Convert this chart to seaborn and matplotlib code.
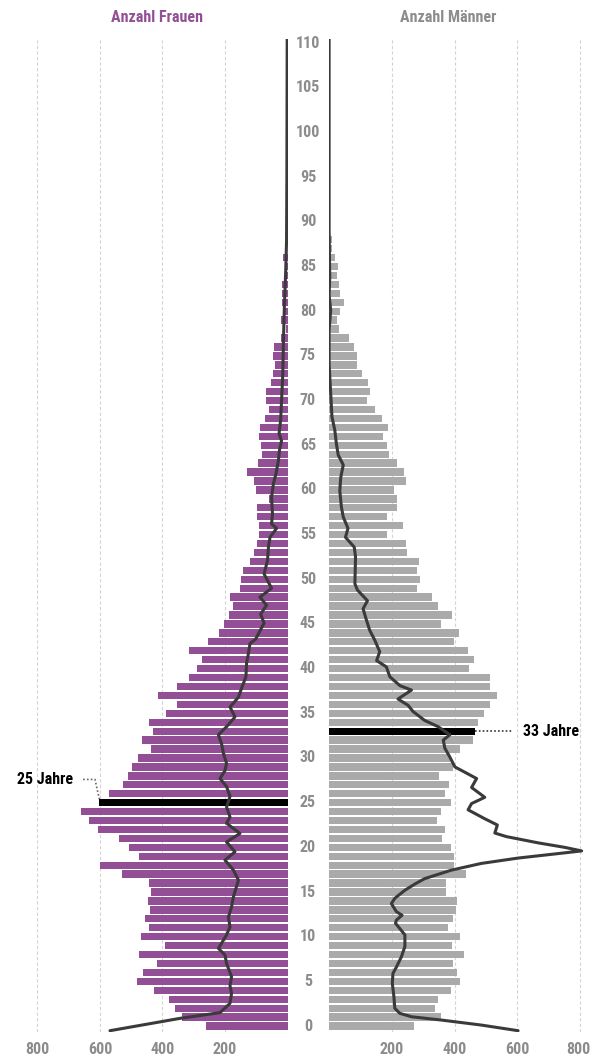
import numpy as np
import pandas as pd
import seaborn as sns
import matplotlib.pyplot as plt
from matplotlib import font_manager
from matplotlib.transforms import blended_transform_factory, ScaledTranslation

# Bars: people per age
ages_f = list(range(0, 87))
women = [262, 339, 361, 380, 427, 481, 461, 418, 476, 392,
         470, 443, 455, 440, 447, 436, 444, 530, 599, 475,
         507, 539, 607, 634, 661, 602, 570, 526, 511, 499,
         478, 438, 464, 431, 442, 388, 355, 413, 354, 316,
         290, 274, 314, 254, 220, 202, 187, 173, 183, 153,
         148, 142, 120, 107, 98, 91, 91, 98, 98, 59,
         101, 106, 130, 95, 82, 84, 92, 87, 71, 60,
         68, 70, 52, 47, 39, 46, 44, 21, 6, 21,
         14, 17, 17, 17, 4, 8, 13]

ages_m = list(range(0, 90))
men = [271, 358, 339, 347, 390, 418, 408, 395, 431, 393,
       416, 380, 396, 405, 408, 374, 374, 436, 399, 398,
       389, 360, 368, 345, 356, 388, 369, 383, 350, 394,
       385, 418, 457, 464, 476, 493, 512, 534, 514, 512,
       446, 463, 443, 397, 415, 356, 392, 348, 327, 280,
       290, 280, 288, 250, 244, 184, 235, 185, 218, 216,
       208, 247, 238, 216, 190, 184, 171, 189, 170, 148,
       123, 131, 124, 107, 90, 89, 79, 63, 31, 26,
       35, 48, 37, 32, 26, 30, 19, 9, 9, 3]

highlight_f = 25
highlight_m = 33

# Comparison curves (age, count)
curve_f_age = [-0.52, 0.86, 1.5, 2.54, 3.65, 4.52, 5.52, 7.0, 7.95, 8.69,
               10.2, 11.1, 12.2, 13.35, 14.47, 16.33, 17.45, 18.57, 19.5, 20.6,
               21.55, 22.7, 23.4, 24.5, 25.7, 26.8, 27.7, 28.6, 29.4, 30.5,
               31.6, 32.6, 33.5, 34.6, 35.7, 36.8, 37.8, 39.1, 40.6, 41.7,
               42.8, 43.3, 44.1, 45.1, 46.1, 47.1, 48.0, 49.0, 50.6, 52.1,
               53.6, 54.7, 55.7, 56.2, 57.3, 59.2, 60.7, 61.8, 63.3, 64.4,
               65.5, 66.3, 67.8, 70.0, 73.0, 76.7, 80.5, 84.2, 87.9, 95.0,
               110.5]
curve_f_val = [568, 344, 216, 184, 179, 184, 179, 195, 200, 221,
               195, 184, 189, 179, 173, 157, 173, 200, 168, 195,
               152, 195, 184, 195, 184, 195, 216, 200, 195, 205,
               211, 221, 195, 168, 184, 157, 147, 133, 131, 125,
               120, 102, 90, 75, 86, 67, 88, 51, 75, 64,
               61, 56, 35, 51, 48, 51, 45, 37, 29, 26,
               19, 27, 22, 19, 15, 13, 10, 6, 3, 2,
               1]

curve_m_age = [-0.52, 0.11, 0.67, 1.04, 1.42, 1.98, 3.3, 4.77, 5.89, 6.6,
               7.76, 8.9, 10.2, 10.9, 11.5, 11.86, 12.4, 12.8, 13.7, 14.3,
               15.2, 15.9, 16.5, 17.45, 18.2, 18.8, 19.3, 19.6, 20.0, 20.5,
               21.2, 21.6, 22.5, 23.2, 24.2, 24.9, 25.6, 26.7, 27.7, 28.4,
               29.0, 30.1, 31.1, 32.0, 32.6, 33.5, 34.2, 35.2, 35.9, 36.6,
               37.6, 38.1, 39.1, 40.2, 40.9, 41.9, 43.2, 44.3, 45.4, 46.7,
               47.6, 48.8, 49.5, 52.5, 53.6, 54.7, 55.7, 56.97, 58.1, 59.9,
               61.4, 62.8, 63.9, 65.2, 66.7, 68.2, 74.1, 77.9, 80.1, 81.8,
               83.8, 89.0, 110.5]
curve_m_val = [602, 485, 358, 263, 226, 210, 207, 202, 204, 215,
               231, 242, 242, 226, 212, 215, 233, 215, 199, 210,
               242, 274, 305, 390, 485, 602, 729, 804, 750, 666,
               565, 528, 536, 496, 443, 454, 496, 454, 470, 433,
               401, 385, 369, 364, 385, 348, 305, 268, 252, 220,
               263, 226, 194, 183, 152, 162, 146, 130, 120, 109,
               123, 91, 83, 85, 81, 53, 61, 46, 40, 35,
               38, 46, 30, 24, 19, 10, 1, 1, 6, 1,
               3, 1, 1]

age_ticks = list(range(0, 111, 5))
count_ticks = [200, 400, 600, 800]

purple = "#924f96"
grey_bar = "#aaaaaa"
grey_txt = "#8c8c8c"
line_col = "#3a3a3a"

sns.set_style("white")

# prefer a condensed face if one is installed
fonts = font_manager.fontManager.ttflist
names = {f.name for f in fonts}
narrow = None
for cand in ["Roboto Condensed", "Liberation Sans Narrow", "Open Sans Condensed"]:
    if cand in names:
        narrow = cand
        break
if narrow:
    plt.rcParams["font.family"] = [narrow, "DejaVu Sans"]
    fs_big, fs_title = 11.5, 11.5
else:
    plt.rcParams["font.family"] = ["DejaVu Sans"]
    fs_big, fs_title = 8.8, 9

fig = plt.figure(figsize=(5.9, 10.57), dpi=100, facecolor="white")
bottom, top = 1 - 1032.3 / 1057, 1 - 38.7 / 1057
ax_f = fig.add_axes([28.1 / 590, bottom, (287.5 - 28.1) / 590, top - bottom])
ax_m = fig.add_axes([328.8 / 590, bottom, (589.8 - 328.8) / 590, top - bottom])

df_f = pd.DataFrame({"age": ages_f, "n": women, "hl": [a == highlight_f for a in ages_f]})
df_m = pd.DataFrame({"age": ages_m, "n": men, "hl": [a == highlight_m for a in ages_m]})

sns.barplot(data=df_f, x="n", y="age", hue="hl", orient="h", native_scale=True,
            palette={False: purple, True: "black"}, dodge=False, legend=False,
            width=0.82, saturation=1, errorbar=None, linewidth=0, ax=ax_f)
sns.barplot(data=df_m, x="n", y="age", hue="hl", orient="h", native_scale=True,
            palette={False: grey_bar, True: "black"}, dodge=False, legend=False,
            width=0.82, saturation=1, errorbar=None, linewidth=0, ax=ax_m)

sns.lineplot(x=curve_f_val, y=curve_f_age, sort=False, estimator=None,
             color=line_col, lw=2.2, ax=ax_f, solid_joinstyle="round")
sns.lineplot(x=curve_m_val, y=curve_m_age, sort=False, estimator=None,
             color=line_col, lw=2.2, ax=ax_m, solid_joinstyle="round")

for ax in (ax_f, ax_m):
    ax.set_ylim(-0.7, 110.5)
    ax.set_yticks([])
    ax.set_xticks(count_ticks)
    ax.set_xlabel("")
    ax.set_ylabel("")
    ax.grid(axis="x", color="#d4d4d4", lw=0.8, linestyle=(0, (3, 2)))
    ax.grid(axis="y", visible=False)
    ax.set_axisbelow(True)
    ax.tick_params(axis="x", length=0, pad=7, labelsize=fs_big, labelcolor=grey_txt)
    for lab in ax.get_xticklabels():
        lab.set_fontweight("bold")
    sns.despine(ax=ax, left=True, bottom=True)

ax_f.set_xlim(830, 0)
ax_m.set_xlim(0, 830)

# keep the last right-hand label inside the picture
last = ax_m.get_xticklabels()[-1]
last.set_transform(last.get_transform() + ScaledTranslation(-2 / 100, 0, fig.dpi_scale_trans))

# age labels in the middle
tr = blended_transform_factory(fig.transFigure, ax_m.transData)
for a in age_ticks:
    fig.text(308 / 590, a, str(a), transform=tr, ha="center", va="center",
             fontsize=fs_big, fontweight="bold", color=grey_txt)

fig.text(157 / 590, 1 - 18 / 1057, "Anzahl Frauen", ha="center", va="center",
         fontsize=fs_title, fontweight="bold", color=purple)
fig.text(448 / 590, 1 - 18 / 1057, "Anzahl Männer", ha="center", va="center",
         fontsize=fs_title, fontweight="bold", color=grey_txt)

# callouts
hv = women[highlight_f]
y_lab = highlight_f + 2.6
ax_f.plot([hv + 52, hv + 14, hv], [y_lab, y_lab, highlight_f + 0.4],
          color="#666666", lw=1.2, linestyle=(0, (1, 1.3)))
ax_f.text(hv + 84, y_lab, f"{highlight_f} Jahre", ha="right", va="center",
          fontsize=fs_title, fontweight="bold", color="black")

mv = men[highlight_m]
ax_m.plot([mv + 2, mv + 122], [highlight_m, highlight_m],
          color="#333333", lw=1.2, linestyle=(0, (1, 1.3)))
ax_m.text(mv + 153, highlight_m, f"{highlight_m} Jahre", ha="left", va="center",
          fontsize=fs_title, fontweight="bold", color="black")

fig.savefig("out.png", dpi=100, facecolor="white")
